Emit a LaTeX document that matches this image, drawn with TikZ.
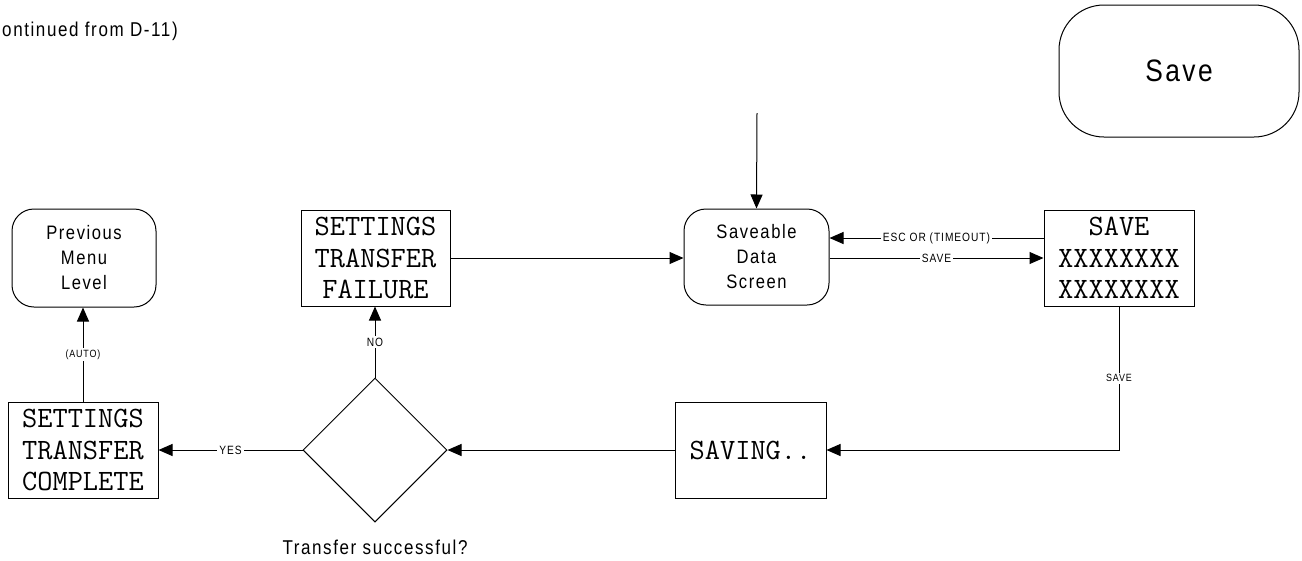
\documentclass[tikz,border=0pt]{standalone}
\usepackage{fontspec}
\setmainfont{Liberation Sans}[LetterSpace=8,FakeStretch=0.85]
\usetikzlibrary{arrows.meta,shapes.geometric}
\begin{document}
\begin{tikzpicture}[x=1pt,y=-1pt,
  every node/.style={inner sep=0pt},
  conn/.style={line width=1pt},
  arr/.style={conn,-{Triangle[length=14pt,width=12pt]}},
  lbl/.style={fill=white,inner sep=2pt,font=\fontsize{12}{14}\selectfont},
  smalllbl/.style={lbl,font=\fontsize{10.5}{12}\selectfont},
  lcdbox/.style={draw,line width=1pt,minimum width=150pt,minimum height=96pt,align=center,font=\ttfamily\fontsize{29.5}{31.5}\selectfont},
  roundbox/.style={draw,line width=1pt,rounded corners=22pt,minimum width=145pt,minimum height=96pt,align=center,font=\fontsize{19.5}{25}\selectfont},
  decision/.style={draw,line width=1pt,shape=diamond,minimum width=144pt,minimum height=144pt},
  plaintext/.style={font=\fontsize{20}{24}\selectfont},
]
\useasboundingbox (0,0) rectangle (1302,560);

% title
\node[plaintext,anchor=base west] (cont) at (2,36) {ontinued from D-11)};

% nodes
\node[roundbox,minimum width=240pt,minimum height=132pt,rounded corners=45pt,font=\fontsize{31}{34}\selectfont] (save) at (1179,71) {Save};
\node[roundbox] (saveable) at (756.5,257) {Saveable\\Data\\Screen};
\node[lcdbox] (savebox) at (1119,258) {SAVE\\XXXXXXXX\\XXXXXXXX};
\node[lcdbox,minimum width=149pt] (failure) at (375.5,258) {SETTINGS\\TRANSFER\\FAILURE};
\node[roundbox,minimum width=144pt,minimum height=98pt] (prev) at (84,258) {Previous\\Menu\\Level};
\node[lcdbox] (complete) at (83,450) {SETTINGS\\TRANSFER\\COMPLETE};
\node[lcdbox,minimum width=151pt] (saving) at (750.5,450) {SAVING..};
\node[decision] (dec) at (375,450) {};
\node[plaintext] (declabel) at (375,547) {Transfer successful?};
\coordinate (topin) at (757,113);

% connectors
\draw[arr] (topin) -- (saveable.north);
\draw[arr] ([yshift=20pt]savebox.west) -- node[lbl] {ESC OR (TIMEOUT)} ([yshift=20pt]saveable.east |- savebox.west);
\draw[arr] (saveable.east |- savebox.west) -- node[lbl] {SAVE} (savebox.west);
\draw[arr] (failure.east) -- (saveable.west |- failure.east);
\draw[arr] (savebox.south) |- node[smalllbl,pos=0.25] {SAVE} (saving.east);
\draw[arr] (saving.west) -- (dec.east);
\draw[arr] (dec.west) -- node[lbl] {YES} (complete.east);
\draw[arr] (dec.north) -- node[lbl] {NO} (dec.north |- failure.south);
\draw[arr] (complete.north) -- node[smalllbl] {(AUTO)} (complete.north |- prev.south);
\end{tikzpicture}
\end{document}
